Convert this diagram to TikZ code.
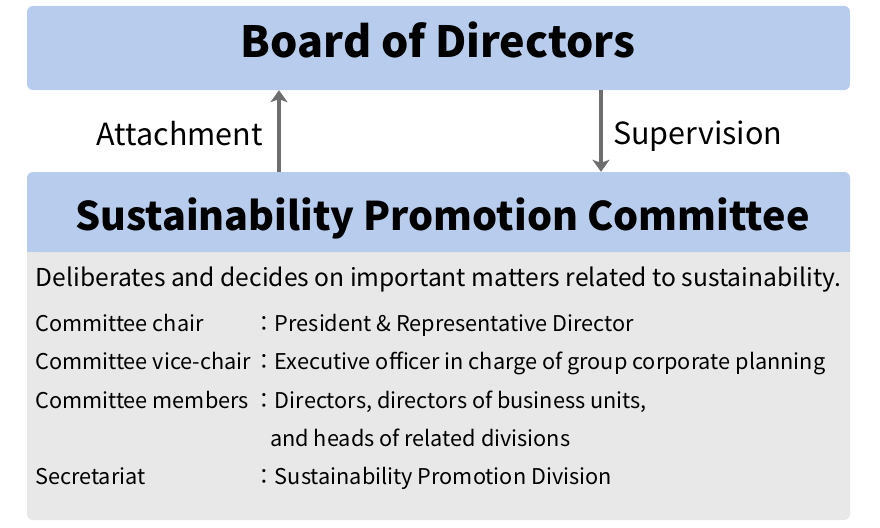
\documentclass[tikz,border=0pt]{standalone}
\usepackage{fontspec}
\setmainfont{Noto Sans CJK JP}
\usetikzlibrary{positioning, arrows.meta}

\definecolor{boxblue}{HTML}{B8CDEE}
\definecolor{boxgray}{HTML}{E8E8E8}
\definecolor{arrowgray}{HTML}{6E6E6E}

\tikzset{
	head/.style={fill=boxblue, rounded corners=6pt, minimum width=823pt, inner sep=0pt},
	title/.style={anchor=base, inner sep=0pt, font=\fontsize{#1}{#1}\selectfont\bfseries},
	flow/.style={draw=arrowgray, line width=4pt, -{Stealth[length=12pt, width=17pt, inset=3pt, fill=arrowgray]}},
	side/.style={font=\fontsize{30.5}{34}\selectfont, inner sep=0pt},
	item/.style={anchor=base west, inner sep=0pt, font=\fontsize{21.7}{24}\selectfont}
}

\begin{document}
\begin{tikzpicture}[x=1pt, y=-1pt]
	\useasboundingbox (0,0) rectangle (880,527);
	% boxes
	\node (board) [head, minimum height=84pt] at (438.5,48) {};
	\node (body) [fill=boxgray, rounded corners=6pt, minimum width=823pt, minimum height=348pt, inner sep=0pt] at (438.5,346) {};
	\node (comm) [head, minimum height=80pt] at (438.5,212) {};
	\fill[boxblue] (comm.south west) rectangle ([yshift=10pt]comm.south east);
	\node (boardtxt) [title=43] at (438,58) {Board of Directors};
	\node (commtxt) [title=39.5] at (442.5,230) {Sustainability Promotion Committee};
	% arrows
	\coordinate (up) at (279,0);
	\coordinate (down) at (601,0);
	\draw[flow] (comm.north -| up) -- (board.south -| up);
	\draw[flow] (board.south -| down) -- (comm.north -| down);
	\node (attach) [side, anchor=base east] at (263,145) {Attachment};
	\node (super) [side, anchor=base west] at (613,144) {Supervision};
	% text
	\node (desc) [font=\fontsize{24.6}{28}\selectfont, inner sep=0pt, anchor=base] at (438.5,286) {Deliberates and decides on important matters related to sustainability.};
	\node (l1) [item] at (35,331.5) {Committee chair};
	\node (v1) [item] at (253,331.5) {：President \& Representative Director};
	\node (l2) [item] at (35,369.8) {Committee vice-chair};
	\node (v2) [item] at (253,369.8) {：Executive officer in charge of group corporate planning};
	\node (l3) [item] at (35,408) {Committee members};
	\node (v3) [item] at (253,408) {：Directors, directors of business units,};
	\node (v3b) [item] at (270,446.3) {and heads of related divisions};
	\node (l4) [item] at (35,484.5) {Secretariat};
	\node (v4) [item] at (253,484.5) {：Sustainability Promotion Division};
\end{tikzpicture}
\end{document}
